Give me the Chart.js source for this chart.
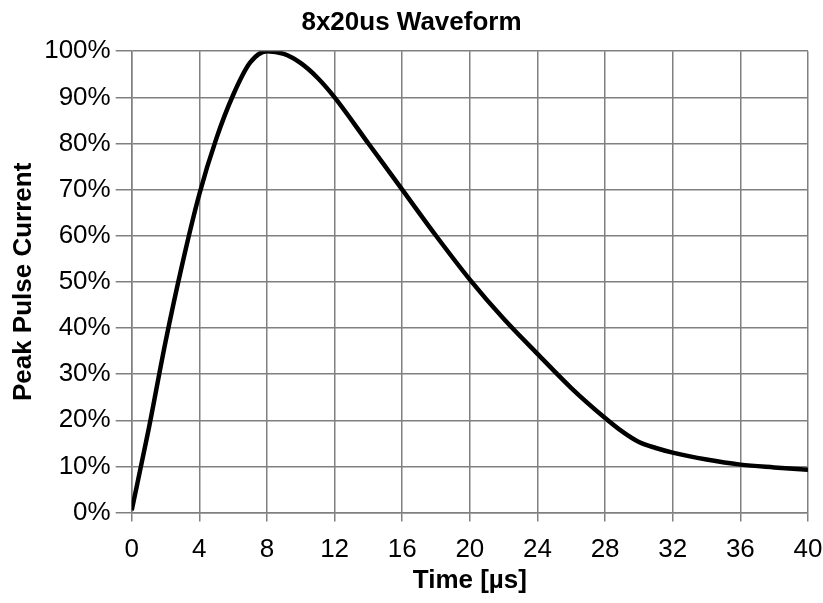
<!DOCTYPE html>
<html>
<head>
<meta charset="utf-8">
<script src="https://cdn.jsdelivr.net/npm/chart.js@4"></script>
<style>
  html, body { margin: 0; padding: 0; background: #fff; }
  #wrap { width: 823px; height: 603px; }
</style>
</head>
<body>
<div id="wrap"><canvas id="chart" width="823" height="603"></canvas></div>
<script>
// values
const timeUs = [0, 1, 2, 3, 4, 5, 6, 7, 8, 9, 10, 11, 12, 14, 16, 18, 20, 22, 24, 26, 28, 29, 30, 31, 32, 34, 36, 38, 40];
const currentPct = [0.5, 18, 37, 54, 69, 81, 90.5, 97.5, 100, 99.4, 97.4, 94.2, 90, 80, 70, 60, 50.5, 42, 34.4, 27, 20.5, 17.6, 15.3, 14, 13, 11.5, 10.4, 9.8, 9.3];

const chartTitle = "8x20us Waveform";
const xTitle = "Time [µs]";
const yTitle = "Peak Pulse Current";

const fontFamily = "'Liberation Sans', Arial, Helvetica, sans-serif";
const gridColor = "#808080";

const points = timeUs.map((t, i) => ({ x: t, y: currentPct[i] }));

const ctx = document.getElementById("chart").getContext("2d");

new Chart(ctx, {
  type: "line",
  data: {
    datasets: [
      {
        label: "Waveform",
        data: points,
        borderColor: "#000",
        borderWidth: 4.5,
        pointRadius: 0,
        cubicInterpolationMode: "monotone",
        fill: false,
      },
    ],
  },
  options: {
    responsive: false,
    animation: false,
    layout: { padding: { top: 4, right: 0, bottom: 7, left: 0 } },
    plugins: {
      legend: { display: false },
      tooltip: { enabled: false },
      title: {
        display: true,
        text: chartTitle,
        color: "#000",
        font: { family: fontFamily, size: 26, weight: "bold" },
        padding: { top: 3, bottom: 13 },
      },
    },
    scales: {
      x: {
        type: "linear",
        min: 0,
        max: 40,
        // the "40" label only needs half its width past the plot edge
        afterFit: (scale) => { scale.paddingRight = 15; },
        ticks: {
          stepSize: 4,
          color: "#000",
          padding: 13,
          font: { family: fontFamily, size: 26 },
          maxRotation: 0,
        },
        grid: { color: gridColor, lineWidth: 1.5, tickLength: 9 },
        border: { color: gridColor, width: 1.5 },
        title: {
          display: true,
          text: xTitle,
          color: "#000",
          font: { family: fontFamily, size: 26, weight: "bold" },
          padding: { top: -14, bottom: 0 },
        },
      },
      y: {
        min: 0,
        max: 100,
        ticks: {
          stepSize: 10,
          color: "#000",
          padding: 5,
          font: { family: fontFamily, size: 26 },
          callback: (value) => value + "%",
        },
        grid: { color: gridColor, lineWidth: 1.5, tickLength: 16 },
        border: { color: gridColor, width: 1.5 },
        title: {
          display: true,
          text: yTitle,
          color: "#000",
          font: { family: fontFamily, size: 26, weight: "bold" },
          padding: { top: 8, bottom: 0 },
        },
      },
    },
  },
});
</script>
</body>
</html>
